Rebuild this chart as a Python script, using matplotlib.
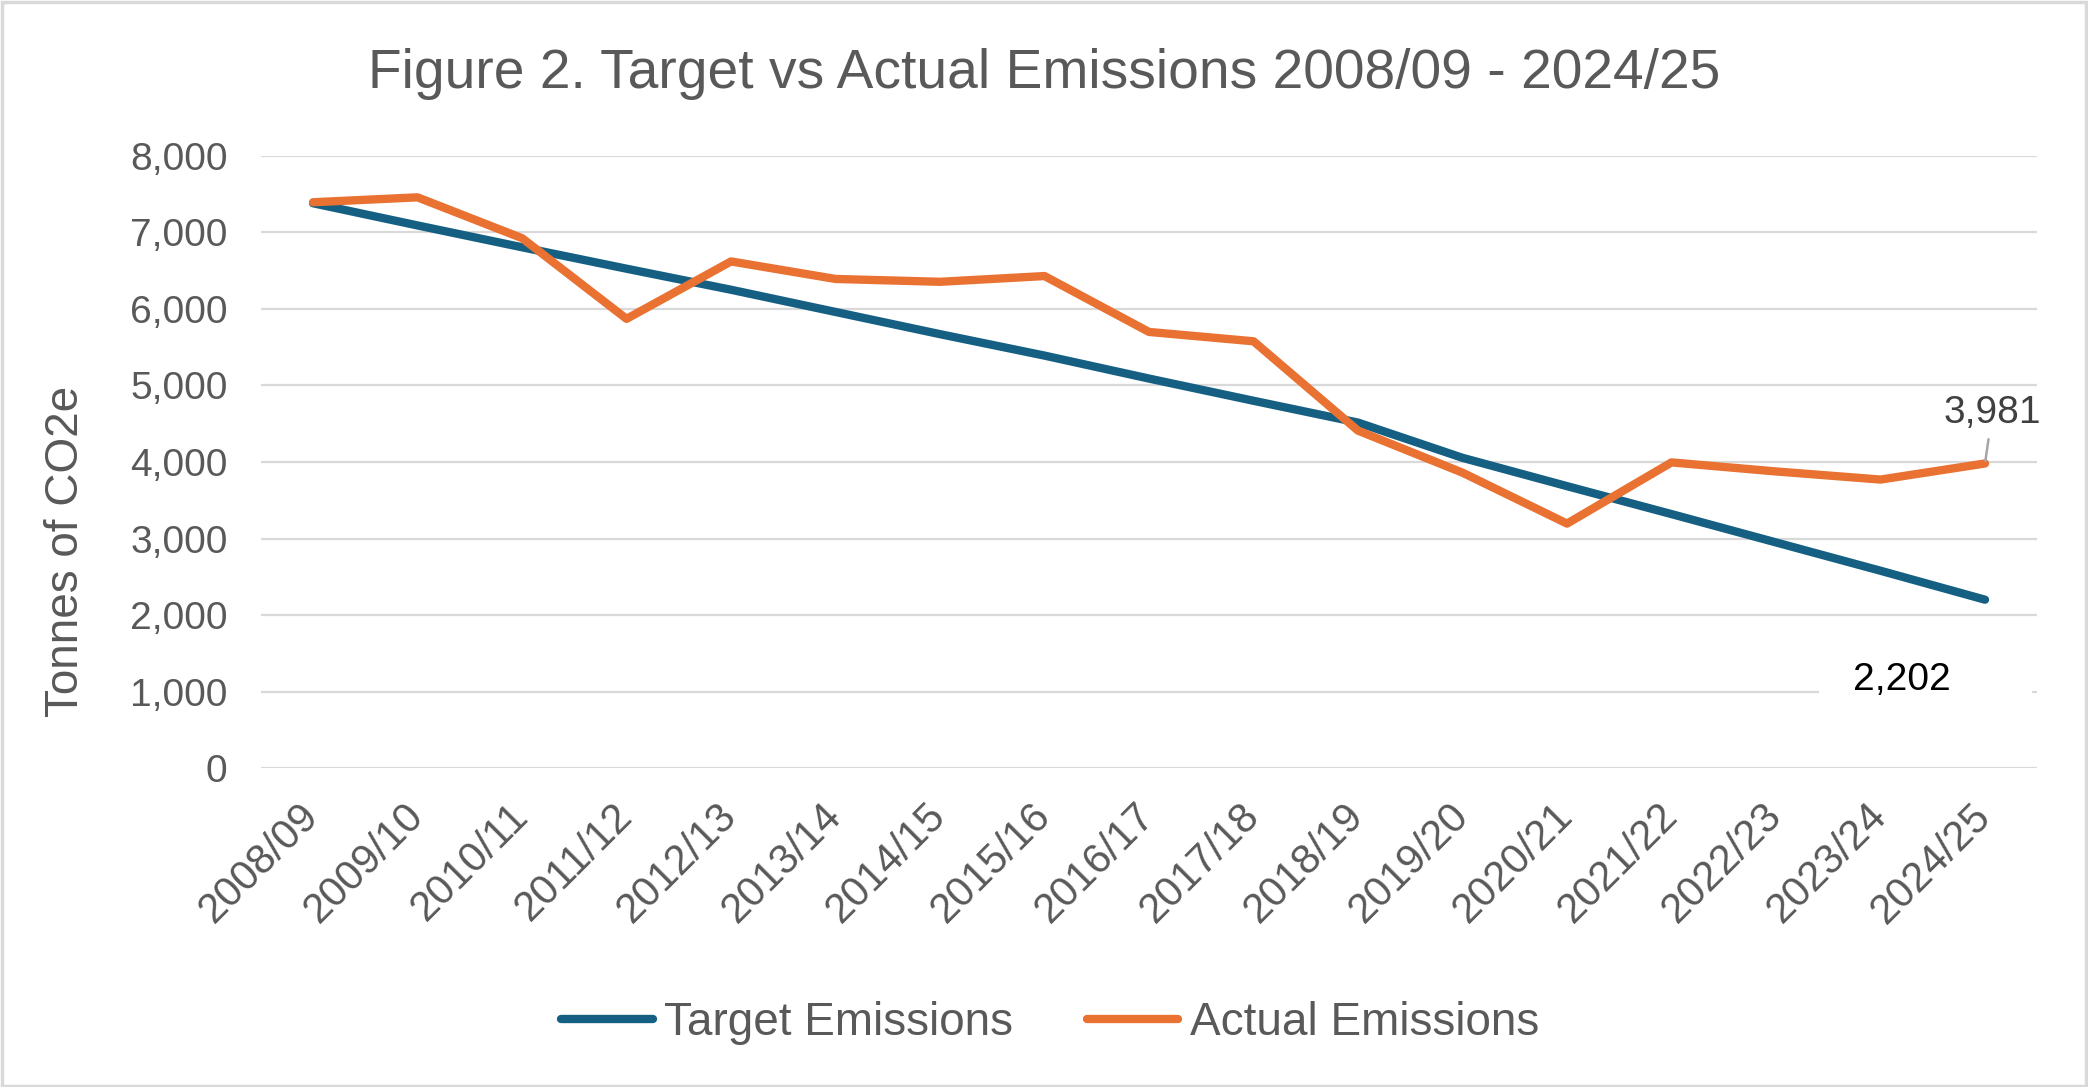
import matplotlib
matplotlib.use('Agg')
import matplotlib.pyplot as plt
from matplotlib.patches import Rectangle

years = ['2008/09', '2009/10', '2010/11', '2011/12', '2012/13', '2013/14', '2014/15',
         '2015/16', '2016/17', '2017/18', '2018/19', '2019/20', '2020/21', '2021/22',
         '2022/23', '2023/24', '2024/25']
target = [7380, 7090, 6805, 6525, 6250, 5960, 5670, 5390, 5090, 4800, 4515,
          4055, 3685, 3320, 2950, 2580, 2202]
actual = [7393, 7457, 6924, 5870, 6620, 6391, 6354, 6429, 5699, 5577, 4410,
          3861, 3196, 3995, 3877, 3771, 3981]

blue = '#156082'
orange = '#E97132'
grey = '#595959'

plt.rcParams['font.family'] = ['Liberation Sans', 'DejaVu Sans']

fig = plt.figure(figsize=(20.88, 10.87), dpi=100)
ax = fig.add_axes([0.1249, 0.2932, 0.8508, 0.5635])

x = list(range(len(years)))
ax.plot(x, target, color=blue, lw=6, solid_capstyle='round', label='Target Emissions')
ax.plot(x, actual, color=orange, lw=6, solid_capstyle='round', label='Actual Emissions')

ax.set_xlim(-0.5, len(years) - 0.5)
ax.set_ylim(0, 8000)
ax.set_yticks(range(0, 8001, 1000))
ax.set_yticklabels([f'{v:,}' for v in range(0, 8001, 1000)])
ax.grid(axis='y', color='#D9D9D9', lw=1.6)
ax.set_axisbelow(True)
for s in ax.spines.values():
    s.set_visible(False)
ax.tick_params(length=0, colors=grey)
ax.tick_params(axis='y', pad=24, labelsize=28)
ax.set_xticks(x)
ax.set_xticklabels(years, rotation=45, ha='right', va='center', rotation_mode='anchor')
ax.tick_params(axis='x', pad=30, labelsize=30)

# data labels on the last points
ax.annotate(f'{actual[-1]:,}', xy=(x[-1], actual[-1]), xytext=(x[-1] + 0.07, actual[-1] + 660),
            ha='center', va='center', fontsize=28, color='#404040',
            arrowprops=dict(arrowstyle='-', color='#A6A6A6', lw=1.8, shrinkA=4, shrinkB=2))
ax.add_patch(Rectangle((x[-1] - 1.59, 780), 2.04, 440, facecolor='white',
                       edgecolor='none', zorder=2))
ax.text(x[-1] - 0.795, 1150, f'{target[-1]:,}', ha='center', va='center', fontsize=28,
        color='black', zorder=3)

fig.text(0.5, 0.919, 'Figure 2. Target vs Actual Emissions 2008/09 - 2024/25',
         ha='center', va='baseline', fontsize=39.7, color=grey)
fig.text(66 / 2088, 1 - 551 / 1087, 'Tonnes of CO2e', rotation=90, ha='center', va='center',
         fontsize=33, color=grey)

leg = fig.legend(loc='center', bbox_to_anchor=(0.503, 0.059), ncol=2, frameon=False,
                 fontsize=33, handlelength=2.0, handletextpad=0.25, columnspacing=1.6)
for t in leg.get_texts():
    t.set_color(grey)

fig.patches.append(Rectangle((0.001, 0.001), 0.998, 0.997, transform=fig.transFigure,
                             fill=False, edgecolor='#D9D9D9', lw=2.5))

fig.savefig('out.png', dpi=100)
